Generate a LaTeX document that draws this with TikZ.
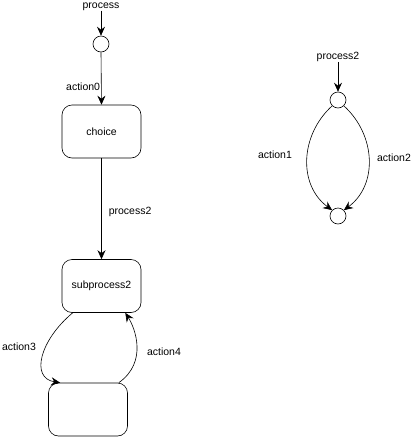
\documentclass[tikz,border=0pt]{standalone}
\usepackage{fontspec}
\setmainfont{Liberation Sans}
\usetikzlibrary{arrows.meta,calc}
\begin{document}
\begin{tikzpicture}[x=1pt,y=-1pt,
  lbl/.style={font=\fontsize{10.5}{12}\selectfont, inner sep=0pt},
  state/.style={draw, rounded corners=10pt, minimum width=79pt, minimum height=53pt, inner sep=0pt, font=\fontsize{10.5}{12}\selectfont, line width=0.6pt},
  pt/.style={draw, circle, minimum size=16pt, inner sep=0pt, line width=0.6pt},
  conn/.style={line width=0.6pt, -{Stealth[length=9pt,width=8pt,inset=3pt]}}]
\useasboundingbox (0,0) rectangle (413,437);
% left graph
\node[lbl] (t1) at (101,6.5) {process};
\node[pt] (c1) at (101,44) {};
\node[state] (choice) at (101.5,131.5) {choice};
\node[state] (sub) at (101.5,286) {subprocess2};
\node[state] (bot) at (88,409.5) {};
\draw[conn] (t1.south) -- (c1.north);
\draw[conn] (c1.south) -- node[lbl, left=1pt, pos=0.66] (a0) {action0} (choice.north);
\draw[conn] (choice.south) -- node[lbl, right=7pt, pos=0.53] (p2) {process2} (sub.north);
\draw[conn] ([xshift=11pt]sub.south west) .. controls (40,340) and (30,378) .. ([xshift=12pt]bot.north west);
\draw[conn] ([xshift=-9pt]bot.north east) .. controls (148,362) and (135,328) .. ([xshift=-16pt]sub.south east);
\node[lbl] (a3) at (19,347) {action3};
\node[lbl] (a4) at (164,352) {action4};
% right graph
\node[lbl] (t2) at (338,57) {process2};
\node[pt] (c2) at (338,100) {};
\node[pt] (c3) at (338,216) {};
\draw[conn] (t2.south) -- (c2.north);
\draw[conn] (c2.-135) .. controls (300,135) and (298,185) .. (c3.135);
\draw[conn] (c2.-45) .. controls (376,135) and (378,185) .. (c3.45);
\node[lbl] (a1) at (275,155) {action1};
\node[lbl] (a2) at (394,158) {action2};
\end{tikzpicture}
\end{document}
